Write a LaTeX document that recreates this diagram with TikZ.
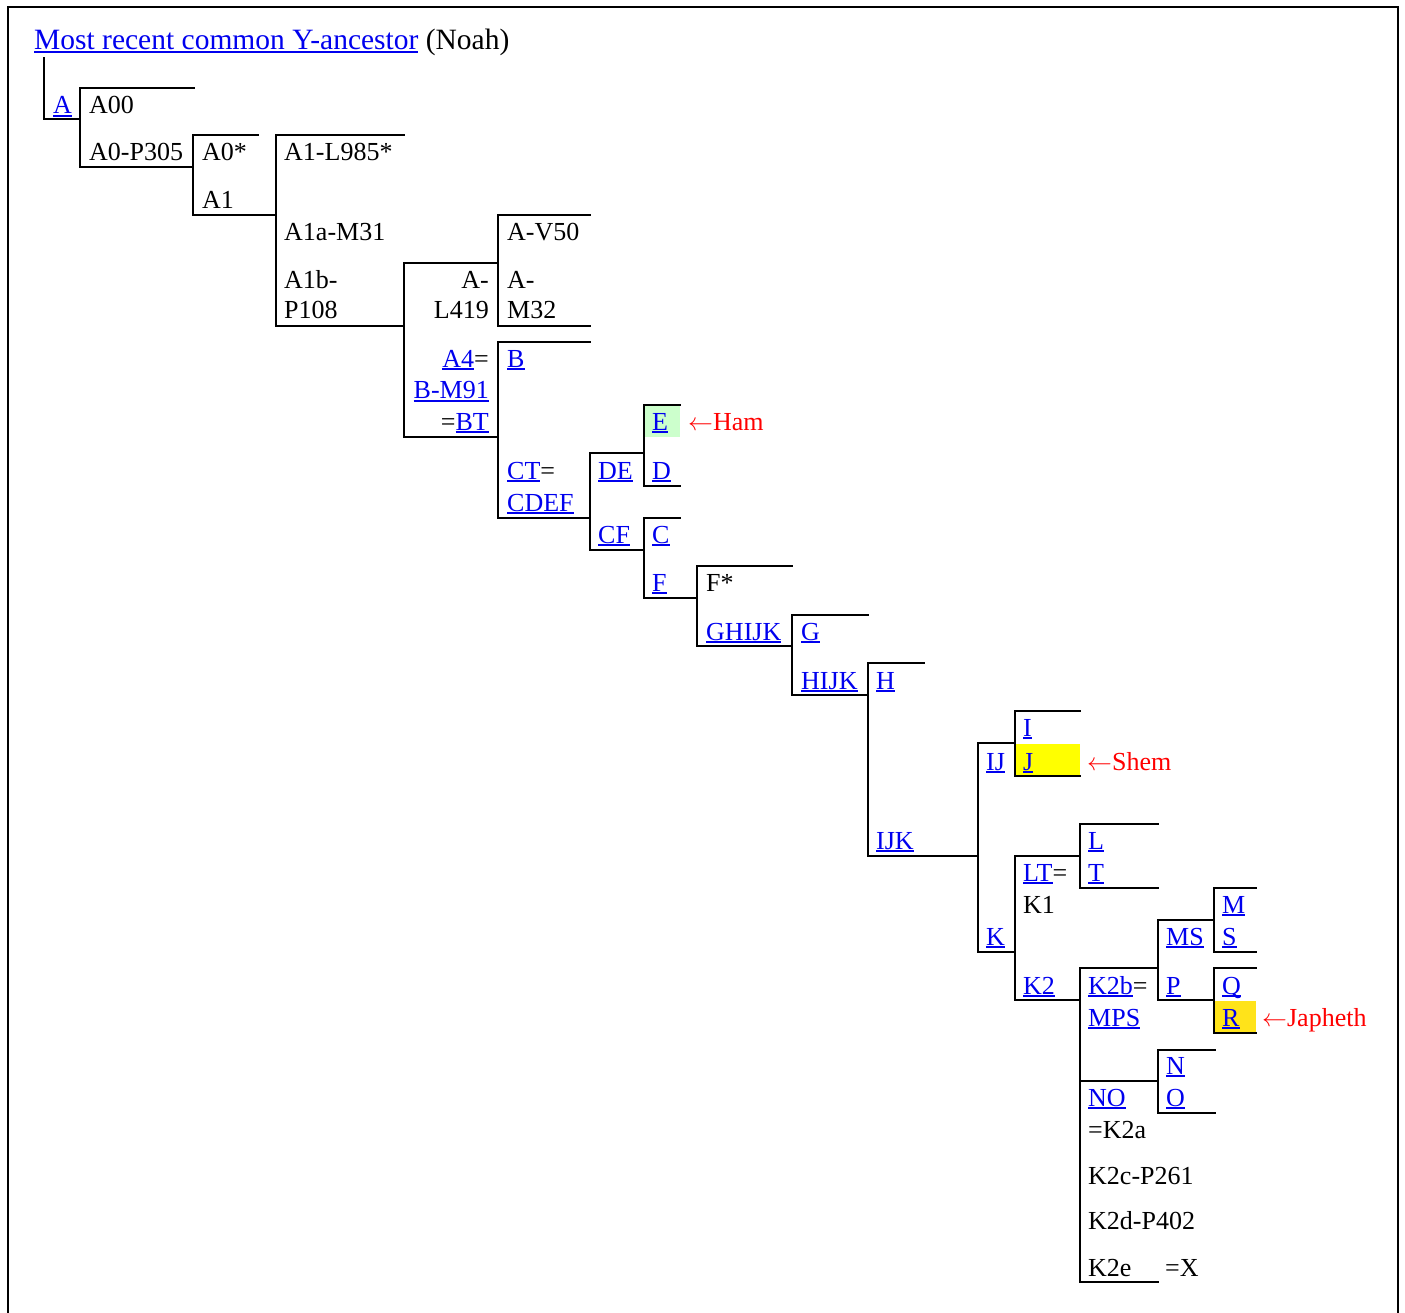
\documentclass[tikz,border=0pt]{standalone}
\usepackage{fontspec}
\setmainfont{Liberation Serif}
\definecolor{linkblue}{HTML}{0000EE}
\definecolor{hamgreen}{HTML}{CCFFCC}
\definecolor{shemyellow}{HTML}{FFFF00}
\definecolor{japhgold}{HTML}{FFE31A}
\definecolor{notered}{HTML}{FF0000}
% blue link text, underlined at a fixed depth
\newcommand{\lk}[1]{{\color{linkblue}\setbox0\hbox{#1}\rlap{\rule[-3.2pt]{\wd0}{1.8pt}}\box0}}
\tikzset{
    lbl/.style={inner sep=0pt, anchor=base west, font=\fontsize{26}{30}\selectfont},
    rlbl/.style={lbl, anchor=base east},
    note/.style={lbl, text=notered},
    bracket/.style={line width=2pt, line cap=rect},
}
\begin{document}
\begin{tikzpicture}[x=1pt, y=-1pt]
            \useasboundingbox (0,0) rectangle (1405,1313);
            \draw[line width=2.4pt] (8,1320) -- (8,7) -- (1398,7) -- (1398,1320);

            % coloured cells
            \fill[hamgreen]   (645,406) rectangle (680,437);
            \fill[shemyellow] (1016,744) rectangle (1080,776);
            \fill[japhgold]   (1215,1001) rectangle (1256,1033);

            % title
            \node[lbl, font=\fontsize{29.5}{34}\selectfont] (mrca) at (34,50)
                {\lk{Most recent common Y-ancestor} (Noah)};
            \coordinate (stem) at (44,58);
            \draw[bracket] (stem) |- (80,119);

            % brackets: x / top / bottom / end of top line / end of bottom line
            \foreach \x/\t/\b/\r/\e in {%
                80/88/167/194/193,
                193/135/215/258/276,
                276/135/326/404/404,
                404/263/437/498/498,
                498/215/326/590/590,
                498/342/518/590/590,
                590/453/550/644/644,
                644/405/486/680/680,
                644/518/598/680/697,
                697/566/646/792/792,
                792/615/695/868/868,
                868/663/856/924/978,
                978/743/952/1015/1015,
                1015/711/776/1080/1080,
                1015/856/1000/1080/1080,
                1080/824/888/1158/1158,
                1080/968/1282/1158/1158,
                1158/920/1000/1214/1214,
                1214/888/952/1256/1256,
                1214/968/1033/1256/1256,
                1158/1050/1113/1215/1215%
                }{
                \draw[bracket] (\r,\t) -- (\x,\t) -- (\x,\b) -- (\e,\b);
            }
            \draw[bracket] (1080,1081) -- (1158,1081);

            % labels, left aligned
            \foreach \n/\x/\y/\t in {%
                a/53/114/{\lk{A}},
                aoo/89/114/{A00},
                aop/89/161/{A0-P305},
                aostar/202/161/{A0*},
                aone/202/209/{A1},
                alstar/284/161/{A1-L985*},
                aam/284/241/{A1a-M31},
                abp/284/289/{A1b-},
                abpb/284/319/{P108},
                avf/507/241/{A-V50},
                am/507/289/{A-},
                amb/507/319/{M32},
                b/507/367/{\lk{B}},
                ct/507/479/{\lk{CT}=},
                cdef/507/511/{\lk{CDEF}},
                de/598/479/{\lk{DE}},
                cf/598/543/{\lk{CF}},
                e/652/430/{\lk{E}},
                d/652/479/{\lk{D}},
                c/652/543/{\lk{C}},
                f/652/591/{\lk{F}},
                fstar/706/591/{F*},
                ghijk/706/640/{\lk{GHIJK}},
                g/801/640/{\lk{G}},
                hijk/801/689/{\lk{HIJK}},
                h/876/689/{\lk{H}},
                ijk/876/849/{\lk{IJK}},
                ij/986/770/{\lk{IJ}},
                k/986/945/{\lk{K}},
                i/1023/736/{\lk{I}},
                j/1023/770/{\lk{J}},
                lt/1023/881/{\lk{LT}=},
                kone/1023/913/{K1},
                ktwo/1023/994/{\lk{K2}},
                l/1088/849/{\lk{L}},
                t/1088/881/{\lk{T}},
                ktb/1088/994/{\lk{K2b}=},
                mps/1088/1026/{\lk{MPS}},
                no/1088/1106/{\lk{NO}},
                kta/1088/1138/{=K2a},
                ktc/1088/1184/{K2c-P261},
                ktd/1088/1229/{K2d-P402},
                kte/1088/1276/{K2e},
                x/1165/1276/{=X},
                ms/1166/945/{\lk{MS}},
                p/1166/994/{\lk{P}},
                m/1222/913/{\lk{M}},
                s/1222/945/{\lk{S}},
                q/1222/994/{\lk{Q}},
                r/1222/1026/{\lk{R}},
                n/1166/1074/{\lk{N}},
                o/1166/1106/{\lk{O}}%
                }{
                \node[lbl] (\n) at (\x,\y) {\t};
            }

            % labels, right aligned
            \foreach \n/\y/\t in {%
                al/289/{A-},
                alb/319/{L419},
                afour/367/{\lk{A4}=},
                bm/399/{\lk{B-M91}},
                bt/430/{=\lk{BT}}%
                }{
                \node[rlbl] (\n) at (489,\y) {\t};
            }

            % sons of Noah
            \node[note] (ham) at (688,430) {$\leftarrow$Ham};
            \node[note] (shem) at (1087,770) {$\leftarrow$Shem};
            \node[note] (japheth) at (1262,1026) {$\leftarrow$Japheth};
        \end{tikzpicture}
\end{document}
